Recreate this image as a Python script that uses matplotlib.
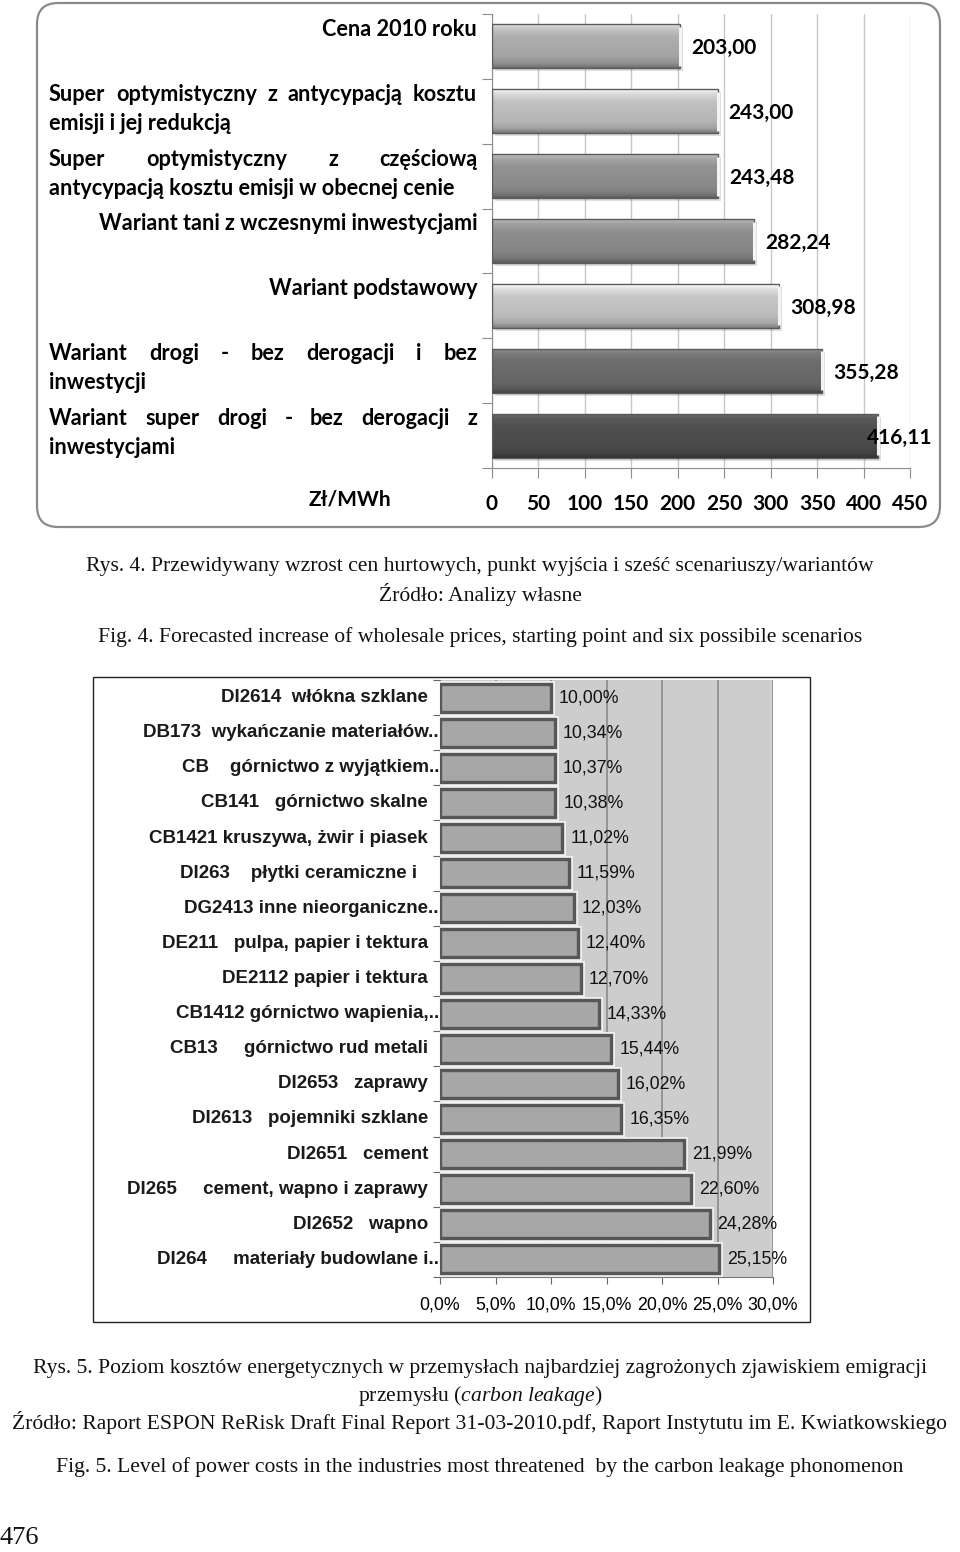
import numpy as np
import matplotlib.pyplot as plt
from matplotlib.patches import FancyBboxPatch, Rectangle
from matplotlib.colors import to_rgb
from matplotlib.transforms import offset_copy

plt.rcParams['mathtext.fontset'] = 'custom'
plt.rcParams['mathtext.rm'] = 'Liberation Serif'
plt.rcParams['mathtext.it'] = 'Liberation Serif:italic'

# --- Rys. 4 data ---
scenarios = [
    "Cena 2010 roku",
    "Super optymistyczny z antycypacją kosztu\nemisji i jej redukcją",
    "Super optymistyczny z częściową\nantycypacją kosztu emisji w obecnej cenie",
    "Wariant tani z wczesnymi inwestycjami",
    "Wariant podstawowy",
    "Wariant drogi - bez derogacji i bez\ninwestycji",
    "Wariant super drogi - bez derogacji z\ninwestycjami",
]
prices = [203.00, 243.00, 243.48, 282.24, 308.98, 355.28, 416.11]
price_ticks = list(range(0, 451, 50))
bar_grays = ['#ababab', '#bebebe', '#909090', '#8c8c8c', '#c3c3c3', '#6b6b6b', '#4e4e4e']

# --- Rys. 5 data ---
industries = [
    "DI2614  włókna szklane",
    "DB173  wykańczanie materiałów..",
    "CB    górnictwo z wyjątkiem..",
    "CB141   górnictwo skalne",
    "CB1421 kruszywa, żwir i piasek",
    "DI263    płytki ceramiczne i  ",
    "DG2413 inne nieorganiczne..",
    "DE211   pulpa, papier i tektura",
    "DE2112 papier i tektura",
    "CB1412 górnictwo wapienia,..",
    "CB13     górnictwo rud metali",
    "DI2653   zaprawy",
    "DI2613   pojemniki szklane",
    "DI2651   cement",
    "DI265     cement, wapno i zaprawy",
    "DI2652   wapno",
    "DI264     materiały budowlane i..",
]
shares = [10.00, 10.34, 10.37, 10.38, 11.02, 11.59, 12.03, 12.40, 12.70,
          14.33, 15.44, 16.02, 16.35, 21.99, 22.60, 24.28, 25.15]
share_ticks = list(range(0, 31, 5))

W, H = 960, 1552
fig = plt.figure(figsize=(W / 100, H / 100), dpi=100)
rend = fig.canvas.get_renderer()


def fx(px):
    return px / W


def fy(py):
    return 1 - py / H


# ================= chart 1 =================
ax1 = fig.add_axes([fx(491.7), fy(468), fx(910) - fx(491.7), fy(14) - fy(468)])
n1 = len(prices)
ys = np.arange(n1)
hb = 0.68

shadow = offset_copy(ax1.transData, fig=fig, x=3, y=-3, units='dots')
ax1.barh(ys, prices, height=hb, color='black', alpha=0.13, zorder=2, transform=shadow)
bars = ax1.barh(ys, prices, height=hb, color=bar_grays, zorder=3)

# bevel-like gradient inside each bar
g = np.linspace(0, 1, 60).reshape(-1, 1)
prof = np.interp(g, [0, 0.12, 0.3, 0.75, 0.9, 1], [1.35, 1.15, 1.02, 0.95, 0.85, 0.65])
for b, c in zip(bars, bar_grays):
    base = np.array(to_rgb(c))
    img = np.clip(prof[:, :, None] * base[None, None, :], 0, 1)
    x0, y0, w, h = b.get_x(), b.get_y(), b.get_width(), b.get_height()
    im = ax1.imshow(img, extent=(x0, x0 + w, y0 + h, y0), aspect='auto', zorder=3.5)
    im.set_clip_path(b)
ax1.barh(ys, prices, height=hb, fill=False, edgecolor='#5a5a5a', lw=1, zorder=4)
# light end cap
ax1.vlines(prices, ys - hb / 2 + 0.04, ys + hb / 2 - 0.04, color='#f4f4f4', lw=2.2, zorder=4.5)

ax1.set_xlim(0, 450)
ax1.set_ylim(n1 - 0.5, -0.5)
ax1.set_xticks(price_ticks)
ax1.set_xticklabels([str(t) for t in price_ticks], fontfamily='Lato',
                    fontweight='bold', fontsize=15)
ax1.set_yticks(np.arange(n1 + 1) - 0.5)
ax1.set_yticklabels([])
ax1.tick_params(axis='x', length=7, color='#8c8c8c', pad=12)
ax1.tick_params(axis='y', length=7, color='#8c8c8c')
ax1.grid(axis='x', color='#c8c8c8', lw=1)
ax1.set_axisbelow(True)
for s in ['top', 'right']:
    ax1.spines[s].set_visible(False)
for s in ['left', 'bottom']:
    ax1.spines[s].set_color('#8c8c8c')

lab_kw = dict(xycoords=('axes fraction', 'data'), textcoords='offset pixels',
              va='center', fontfamily='Lato', fontweight='bold', fontsize=15.6)
left_px, right_px = 49 - 491.7, 477 - 491.7
for i, lab in enumerate(scenarios):
    lines = lab.split('\n')
    if len(lines) == 1:
        ax1.annotate(lab, xy=(0, i), xytext=(right_px, 17), ha='right', **lab_kw)
        continue
    # first line justified over the label column, second line flush left
    words = lines[0].split()
    ts = [ax1.annotate(wd, xy=(0, i), xytext=(left_px, 17), ha='left', **lab_kw) for wd in words]
    ws = [t.get_window_extent(rend).width for t in ts]
    gap = (right_px - left_px - sum(ws)) / (len(words) - 1)
    x = left_px
    for t, wd in zip(ts, ws):
        t.xyann = (x, 17)
        x += wd + gap
    ax1.annotate(lines[1], xy=(0, i), xytext=(left_px, -12), ha='left', **lab_kw)

box_right = 940
for i, v in enumerate(prices):
    t = ax1.annotate(f"{v:.2f}".replace('.', ','), xy=(v, i), xytext=(11, -2),
                     textcoords='offset pixels', va='center', ha='left',
                     fontfamily='Lato', fontweight='bold', fontsize=15, zorder=6)
    if t.get_window_extent(rend).x1 > box_right:
        t.xyann = (-12, -2)

fig.text(fx(350), fy(500), "Zł/MWh", ha='center', va='center',
         fontfamily='Lato', fontweight='bold', fontsize=15)

fig.add_artist(FancyBboxPatch((fx(37), fy(527)), fx(940) - fx(37), fy(3) - fy(527),
                              boxstyle='round,pad=0,rounding_size=0.022',
                              mutation_aspect=W / H, transform=fig.transFigure,
                              fill=False, ec='#8a8a8a', lw=1.6))

# ================= chart 2 =================
fig.add_artist(Rectangle((fx(93), fy(1322)), fx(810) - fx(93), fy(677) - fy(1322),
                         transform=fig.transFigure, fill=False, ec='#222222', lw=1))
ax2 = fig.add_axes([fx(440), fy(1277), fx(773) - fx(440), fy(680) - fy(1277)])
n2 = len(shares)
y2 = np.arange(n2)
ax2.set_facecolor('#cdcdcd')
ax2.barh(y2, shares, height=0.8, color='#a7a7a7', edgecolor='#f0f0f0', lw=5, zorder=3)
ax2.barh(y2, shares, height=0.8, color='#a7a7a7', edgecolor='#575757', lw=2.4, zorder=4)
ax2.set_xlim(0, 30)
ax2.set_ylim(n2 - 0.5, -0.5)
ax2.set_xticks(share_ticks)
ax2.set_xticklabels([f"{t:.1f}%".replace('.', ',') for t in share_ticks],
                    fontfamily='Liberation Sans', fontsize=12.8)
ax2.set_yticks(np.arange(n2 + 1) - 0.5)
ax2.set_yticklabels([])
ax2.tick_params(axis='x', length=5, color='#666666', pad=9)
ax2.tick_params(axis='y', length=5, color='#666666')
ax2.grid(axis='x', color='#8a8a8a', lw=1.2)
ax2.set_axisbelow(True)
for s in ['top', 'right']:
    ax2.spines[s].set_visible(False)
for s in ['left', 'bottom']:
    ax2.spines[s].set_color('#777777')

for i, lab in enumerate(industries):
    off = -1 if lab.endswith('..') else -12
    ax2.annotate(lab, xy=(0, i), xycoords=('axes fraction', 'data'), xytext=(off, 0),
                 textcoords='offset pixels', ha='right', va='center',
                 fontfamily='Liberation Sans', fontweight='bold', fontsize=13.5,
                 color='#1a1a1a')
for i, v in enumerate(shares):
    ax2.annotate(f"{v:.2f}%".replace('.', ','), xy=(v, i), xytext=(8, 0),
                 textcoords='offset pixels', ha='left', va='center',
                 fontfamily='Liberation Sans', fontsize=12.8, color='#111111', zorder=6)

# ================= captions =================
cap = dict(ha='center', va='center', fontfamily='Liberation Serif', fontsize=15.6, color='#111111')
fig.text(0.5, fy(567), "Rys. 4. Przewidywany wzrost cen hurtowych, punkt wyjścia i sześć scenariuszy/wariantów", **cap)
fig.text(0.5, fy(594), "Źródło: Analizy własne", **cap)
fig.text(0.5, fy(637), "Fig. 4. Forecasted increase of wholesale prices, starting point and six possibile scenarios", **cap)
fig.text(0.5, fy(1368), "Rys. 5. Poziom kosztów energetycznych w przemysłach najbardziej zagrożonych zjawiskiem emigracji", **cap)
fig.text(0.5, fy(1396), r"przemysłu ($\it{carbon\ leakage}$)", **cap)
fig.text(0.5, fy(1423), "Źródło: Raport ESPON ReRisk Draft Final Report 31-03-2010.pdf, Raport Instytutu im E. Kwiatkowskiego", **cap)
fig.text(0.5, fy(1467), "Fig. 5. Level of power costs in the industries most threatened  by the carbon leakage phonomenon", **cap)
fig.text(0, fy(1538), "476", ha='left', va='center', fontfamily='Liberation Serif', fontsize=19, color='#111111')

fig.savefig('out.png', dpi=100)
